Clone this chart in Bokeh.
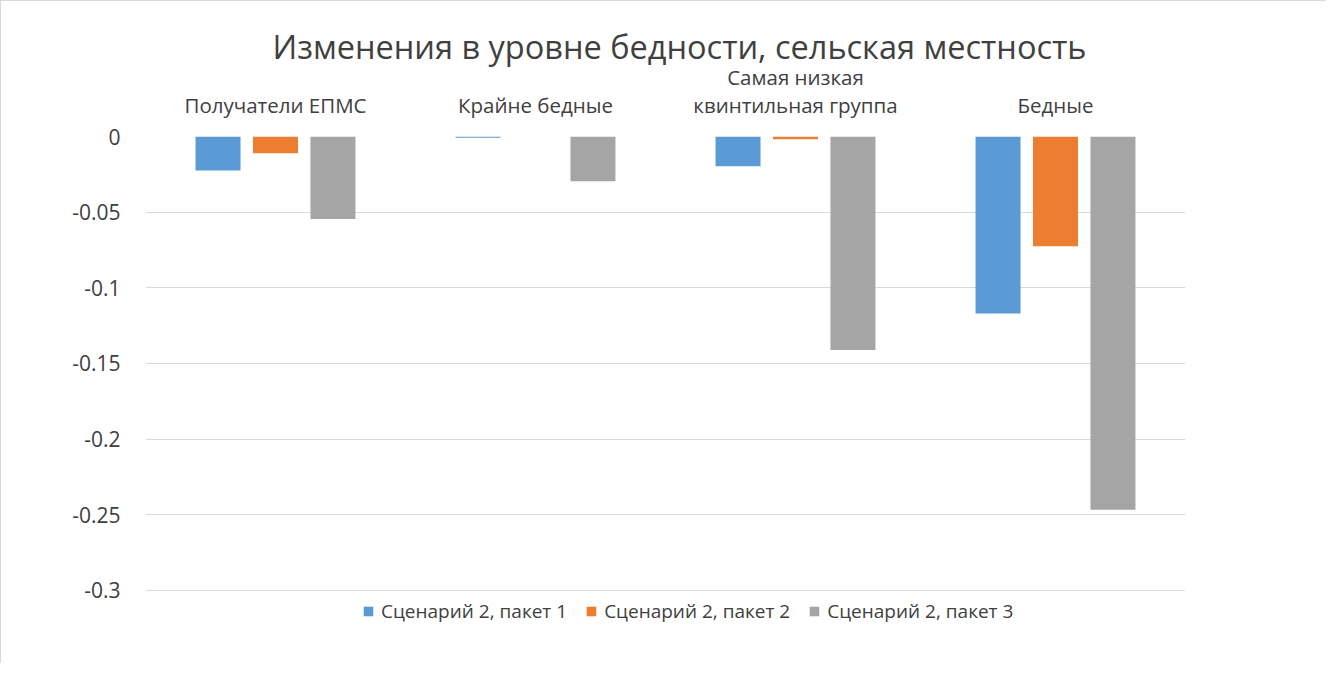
from bokeh.plotting import figure
from bokeh.models import ColumnDataSource, FixedTicker, Range1d, Legend, LegendItem, Title
from bokeh.transform import dodge
from bokeh.embed import file_html
from bokeh.resources import INLINE

categories = ["Получатели ЕПМС", "Крайне бедные", "Самая низкая\nквинтильная группа", "Бедные"]
series_names = ["Сценарий 2, пакет 1", "Сценарий 2, пакет 2", "Сценарий 2, пакет 3"]
paket1 = [-0.0225, -0.0008, -0.0196, -0.117]
paket2 = [-0.011, 0.0, -0.0018, -0.0725]
paket3 = [-0.0545, -0.0295, -0.141, -0.2467]
y_ticks = [0.0, -0.05, -0.1, -0.15, -0.2, -0.25, -0.3]
y_tick_labels = ["0", "-0.05", "-0.1", "-0.15", "-0.2", "-0.25", "-0.3"]
title_text = "Изменения в уровне бедности, сельская местность"

colors = ["#5B9BD5", "#ED7D31", "#A5A5A5"]
FONT = "Open Sans"
TXT = "#404040"

source = ColumnDataSource(dict(cat=categories, p1=paket1, p2=paket2, p3=paket3))

p = figure(
    x_range=categories,
    y_range=Range1d(-0.3489, 0.0),
    width=1326, height=663,
    x_axis_location="above",
    output_backend="svg",
    toolbar_location=None,
    min_border_left=144, min_border_right=142,
    min_border_top=135, min_border_bottom=0,
)
p.styles = {"border-top": "1px solid #d9d9d9", "border-left": "1px solid #d9d9d9"}
p.outline_line_color = None
p.background_fill_color = "white"
p.border_fill_color = "white"

renderers = []
for i, (col, name) in enumerate(zip(["p1", "p2", "p3"], series_names)):
    r = p.vbar(x=dodge("cat", (i - 1) * 0.221, range=p.x_range), top=col, bottom=0,
               width=0.173, source=source, fill_color=colors[i], line_color=None)
    renderers.append(r)

p.xgrid.grid_line_color = None
p.ygrid.grid_line_color = "#d9d9d9"
p.ygrid.grid_line_width = 1

xa = p.xaxis[0]
xa.axis_line_color = None
xa.major_tick_line_color = None
xa.minor_tick_line_color = None
xa.major_label_text_font = FONT
xa.major_label_text_font_size = "20.5px"
xa.major_label_text_color = TXT
xa.major_label_standoff = 12
xa.major_label_text_line_height = 1.0

ya = p.yaxis[0]
ya.ticker = FixedTicker(ticks=y_ticks)
ya.major_label_overrides = {t: l for t, l in zip(y_ticks, y_tick_labels)}
ya.axis_line_color = None
ya.major_tick_line_color = None
ya.minor_tick_line_color = None
ya.major_label_text_font = FONT
ya.major_label_text_font_size = "21px"
ya.major_label_text_color = TXT
ya.major_label_standoff = 19
p.ygrid.ticker = FixedTicker(ticks=y_ticks)

title = Title(text=title_text, align="left", offset=127, standoff=-18,
              text_font=FONT, text_font_size="32.5px", text_font_style="normal",
              text_color=TXT)
p.add_layout(title, "above")
spacer = Title(text=" ", text_font=FONT, text_font_size="20px", standoff=0)
p.add_layout(spacer, "above")

legend = Legend(
    items=[LegendItem(label=n, renderers=[r]) for n, r in zip(series_names, renderers)],
    orientation="horizontal",
    location=(217, 40),
    label_text_font=FONT,
    label_text_font_size="19px",
    label_text_color=TXT,
    glyph_width=12, glyph_height=12,
    label_standoff=7, spacing=18,
    border_line_color=None,
    background_fill_alpha=0,
    padding=0, margin=0,
)
p.add_layout(legend, "center")

open("out.html", "w").write(file_html(p, INLINE))
